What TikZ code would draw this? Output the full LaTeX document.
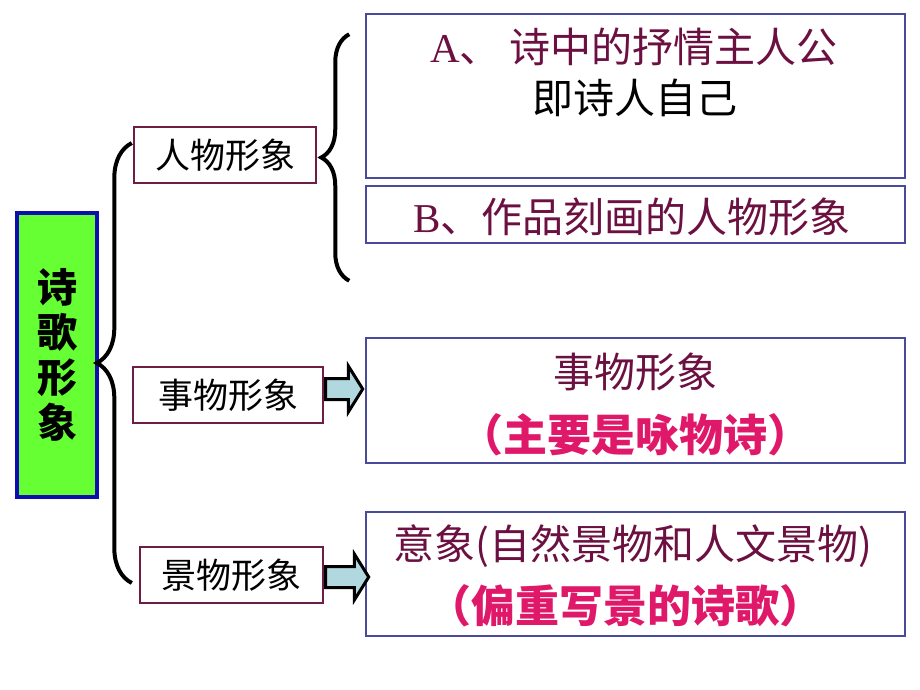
\documentclass[tikz,border=0pt]{standalone}
\usepackage{fontspec}
\setmainfont{Liberation Serif}
\newfontfamily\cjk{Noto Sans CJK SC}
\usetikzlibrary{calc}
\usetikzlibrary{shapes.arrows}
\usetikzlibrary{decorations.pathreplacing}
\definecolor{poemgreen}{HTML}{66FF33}
\definecolor{poemblue}{HTML}{0A10B0}
\definecolor{kindmaroon}{HTML}{6E1E45}
\definecolor{notemaroon}{HTML}{6B1040}
\definecolor{noteframe}{HTML}{4A4A9A}
\definecolor{notepink}{HTML}{E0186A}
\definecolor{arrowteal}{HTML}{B0D8DE}
\tikzset{
  kindbox/.style={draw=kindmaroon,line width=2.4pt,fill=white,minimum height=56pt,inner sep=0pt,
    font=\cjk\fontsize{35}{38}\selectfont},
  notebox/.style={draw=noteframe,line width=1.5pt,minimum width=539pt,inner sep=0pt},
  noteline/.style={inner sep=0pt,text=notemaroon,font=\cjk\fontsize{41}{45}\selectfont},
  pinkline/.style={inner sep=0pt,text=notepink,font=\cjk\bfseries\fontsize{44}{48}\selectfont},
  blockarrow/.style={single arrow,draw=black,line width=3pt,fill=arrowteal,anchor=tail,
    inner xsep=0pt,inner ysep=9pt,single arrow head extend=12.5pt,single arrow tip angle=116,
    minimum height=#1},
  bracket/.style={decorate,decoration={brace,amplitude=#1},line width=4pt},
}
\begin{document}
\begin{tikzpicture}[x=1pt,y=-1pt]%
\useasboundingbox[fill=white] (0,0) rectangle (920,690);%
% the poem, and its three kinds of image
\node[draw=poemblue,line width=3.5pt,fill=poemgreen,minimum width=80pt,minimum height=284pt,inner sep=0pt,
  align=center,font=\cjk\bfseries\fontsize{40}{45}\selectfont] (poem) at (57,355) {诗\\歌\\形\\象};%
\node[kindbox,minimum width=182pt] (renwu) at (225,155) {人物形象};%
\node[kindbox,minimum width=190pt] (shiwu) at (228,395) {事物形象};%
\node[kindbox,minimum width=183pt] (jingwu) at (231.5,575) {景物形象};%
% the notes on the right
\node[notebox,minimum height=164pt] (noteA) at (635.5,96) {};%
\node[notebox,minimum height=57pt] (noteB) at (635.5,214.5) {};%
\node[notebox,minimum height=125pt] (noteC) at (635.5,400.5) {};%
\node[notebox,minimum height=124pt] (noteD) at (635.5,574) {};%
\node[noteline] (lineA) at (634,47) {\rmfamily A{\cjk 、 诗中的抒情主人公}};%
\node[noteline,text=black] (lineAA) at (635,98) {即诗人自己};%
\node[noteline] (lineB) at (632,217) {\rmfamily B{\cjk 、作品刻画的人物形象}};%
\node[noteline] (lineC) at (635,372) {事物形象};%
\node[pinkline] (lineCC) at (635,435) {（主要是咏物诗）};%
\node[noteline] (lineD) at (633,546) {意象(自然景物和人文景物)};%
\node[pinkline] (lineDD) at (625,606) {（偏重写景的诗歌）};%
% braces
\coordinate (leftTop) at ($(renwu.west)+(-1,-12)$);%
\coordinate (leftBot) at ($(jingwu.west)+(-7,8)$);%
\draw[bracket=35pt] (leftBot) -- (leftTop);%
\coordinate (rightTop) at ($(noteA.north west)+(-16,21)$);%
\coordinate (rightBot) at ($(noteB.south west)+(-16,37)$);%
\draw[bracket=28pt] (rightBot) -- (rightTop);%
% block arrows
\node[blockarrow=37pt] (toC) at ($(shiwu.east)+(0,-6)$) {};%
\node[blockarrow=43pt] (toD) at ($(jingwu.east)+(0,2)$) {};%
\end{tikzpicture}
\end{document}
